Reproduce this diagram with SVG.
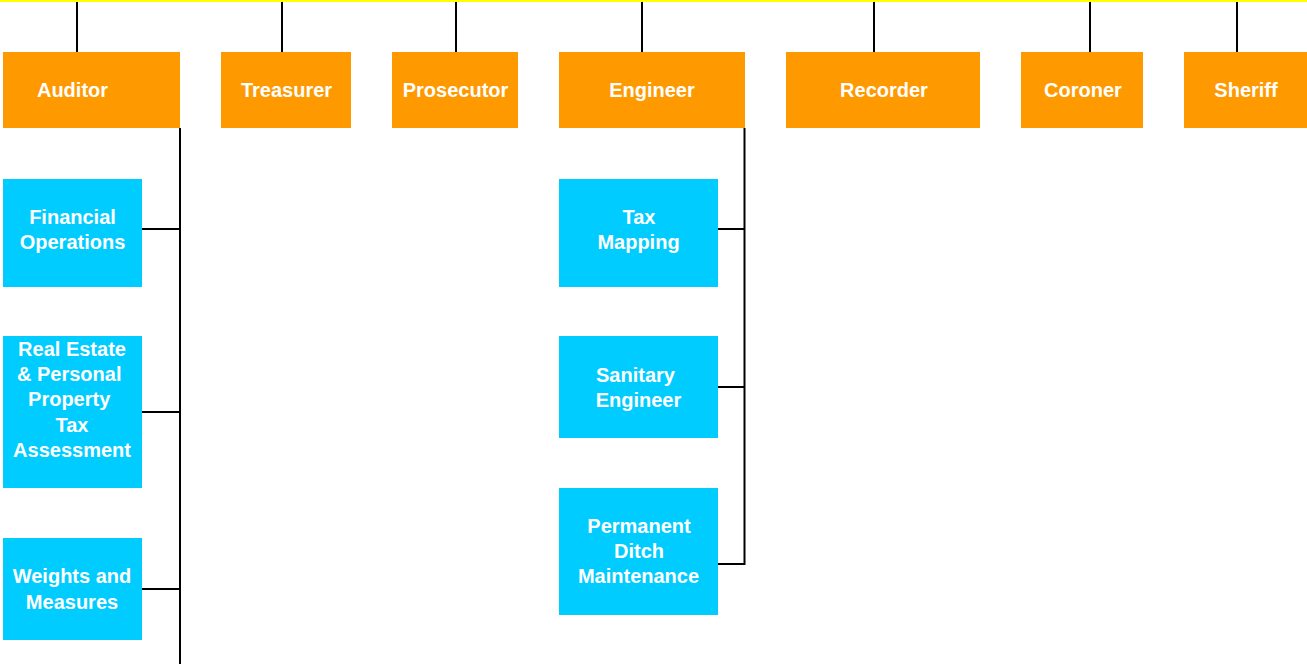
<svg xmlns="http://www.w3.org/2000/svg" width="1307" height="664" viewBox="0 0 1307 664">
<style>
.top{fill:#FF9900}
.sub{fill:#00CCFF}
.t{font-family:"Liberation Sans",Arial,sans-serif;font-weight:bold;font-size:20px;fill:#FFFFFF;text-anchor:middle}
.c{stroke:#000000;stroke-width:2;fill:none}
</style>
<rect x="0" y="0" width="1307" height="2" fill="#FFFF00"/>
<g id="connectors">
<path class="c" d="M77,2V52 M282,2V52 M456,2V52 M642,2V52 M874,2V52 M1090,2V52 M1237,2V52"/>
<path class="c" d="M180,128V664 M142,229H180 M142,412H180 M142,589H180"/>
<path class="c" d="M744.5,128V564 M718,229H745.5 M718,387H745.5 M718,564H745.5"/>
</g>
<g id="auditor"><rect class="top" x="3" y="52" width="177" height="76"/><text class="t" x="72.5" y="97">Auditor</text></g>
<g id="treasurer"><rect class="top" x="221" y="52" width="130" height="76"/><text class="t" x="286.5" y="97">Treasurer</text></g>
<g id="prosecutor"><rect class="top" x="392" y="52" width="126" height="76"/><text class="t" x="455.5" y="97">Prosecutor</text></g>
<g id="engineer"><rect class="top" x="559" y="52" width="186" height="76"/><text class="t" x="652" y="97">Engineer</text></g>
<g id="recorder"><rect class="top" x="786" y="52" width="194" height="76"/><text class="t" x="884" y="97">Recorder</text></g>
<g id="coroner"><rect class="top" x="1021" y="52" width="122" height="76"/><text class="t" x="1083" y="97">Coroner</text></g>
<g id="sheriff"><rect class="top" x="1184" y="52" width="123" height="76"/><text class="t" x="1246" y="97">Sheriff</text></g>
<g id="financial-operations"><rect class="sub" x="3" y="179" width="139" height="108"/><text class="t" x="72.5" y="224">Financial</text><text class="t" x="72.5" y="249">Operations</text></g>
<g id="real-estate"><rect class="sub" x="3" y="336" width="139" height="152"/><text class="t" x="72" y="356">Real Estate</text><text class="t" x="69.2" y="381">&amp; Personal</text><text class="t" x="69.2" y="406">Property</text><text class="t" x="72" y="431.5">Tax</text><text class="t" x="72" y="457">Assessment</text></g>
<g id="weights-measures"><rect class="sub" x="3" y="538" width="139" height="102"/><text class="t" x="72" y="583">Weights and</text><text class="t" x="72" y="609">Measures</text></g>
<g id="tax-mapping"><rect class="sub" x="559" y="179" width="159" height="108"/><text class="t" x="639" y="224">Tax</text><text class="t" x="638.5" y="249">Mapping</text></g>
<g id="sanitary-engineer"><rect class="sub" x="559" y="336" width="159" height="102"/><text class="t" x="635.5" y="382">Sanitary</text><text class="t" x="638.5" y="407">Engineer</text></g>
<g id="permanent-ditch"><rect class="sub" x="559" y="488" width="159" height="127"/><text class="t" x="639" y="533">Permanent</text><text class="t" x="639" y="558">Ditch</text><text class="t" x="638.5" y="583">Maintenance</text></g>
</svg>
